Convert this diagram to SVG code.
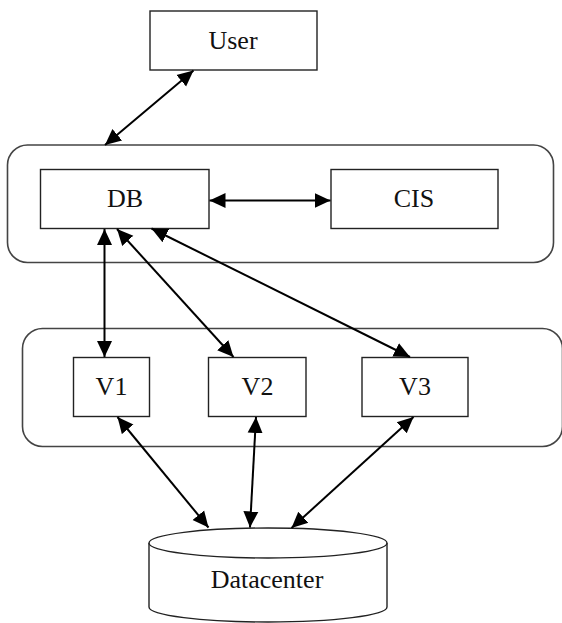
<svg xmlns="http://www.w3.org/2000/svg" width="562" height="623" viewBox="0 0 562 623">
<defs>
<style>
.box{fill:#fff;stroke:#222;stroke-width:1.4}
.cont{fill:none;stroke:#444;stroke-width:1.6}
.lbl{font-family:"Liberation Serif","Times New Roman",serif;font-size:26px;fill:#111;text-anchor:middle}
.conn{stroke:#000;stroke-width:2;fill:none;marker-start:url(#ah);marker-end:url(#ah)}
</style>
<marker id="ah" markerUnits="userSpaceOnUse" markerWidth="17" markerHeight="17" viewBox="0 0 17 17" refX="16" refY="8.5" orient="auto-start-reverse">
<path d="M0,1 L16,8.5 L0,16 Z" fill="#000"/>
</marker>
</defs>
<rect width="562" height="623" fill="#fff"/>
<g id="container-top"><rect class="cont" x="7.5" y="145" width="546" height="117.5" rx="20"/></g>
<g id="container-bottom"><rect class="cont" x="22.5" y="328.5" width="540" height="118" rx="20"/></g>
<g id="user"><rect class="box" x="150" y="11" width="167" height="59"/><text class="lbl" x="233" y="49">User</text></g>
<g id="db"><rect class="box" x="40.5" y="169.5" width="168.5" height="59"/><text class="lbl" x="125" y="207">DB</text></g>
<g id="cis"><rect class="box" x="331" y="169.5" width="167" height="59"/><text class="lbl" x="414" y="207">CIS</text></g>
<g id="v1"><rect class="box" x="73.5" y="357.5" width="76" height="59"/><text class="lbl" x="111.5" y="395">V1</text></g>
<g id="v2"><rect class="box" x="208.5" y="357.5" width="97.5" height="59"/><text class="lbl" x="257.5" y="395">V2</text></g>
<g id="v3"><rect class="box" x="362" y="357.5" width="106" height="59"/><text class="lbl" x="415" y="395">V3</text></g>
<g id="datacenter">
<path class="box" d="M149,543 L149,607 A119,15 0 0 0 387,607 L387,543"/>
<ellipse class="box" cx="268" cy="543" rx="119" ry="15"/>
<text class="lbl" x="267" y="588">Datacenter</text>
</g>
<g id="connectors">
<line class="conn" x1="193.5" y1="70.5" x2="105" y2="145"/>
<line class="conn" x1="209.5" y1="200.5" x2="330.5" y2="200.5"/>
<line class="conn" x1="104.5" y1="229" x2="104.5" y2="357"/>
<line class="conn" x1="117" y1="229" x2="233.5" y2="357"/>
<line class="conn" x1="151.5" y1="228.5" x2="410" y2="357"/>
<line class="conn" x1="117.5" y1="417" x2="208.5" y2="527.5"/>
<line class="conn" x1="256" y1="417" x2="250" y2="527.5"/>
<line class="conn" x1="413.5" y1="417" x2="291.5" y2="528"/>
</g>
</svg>
